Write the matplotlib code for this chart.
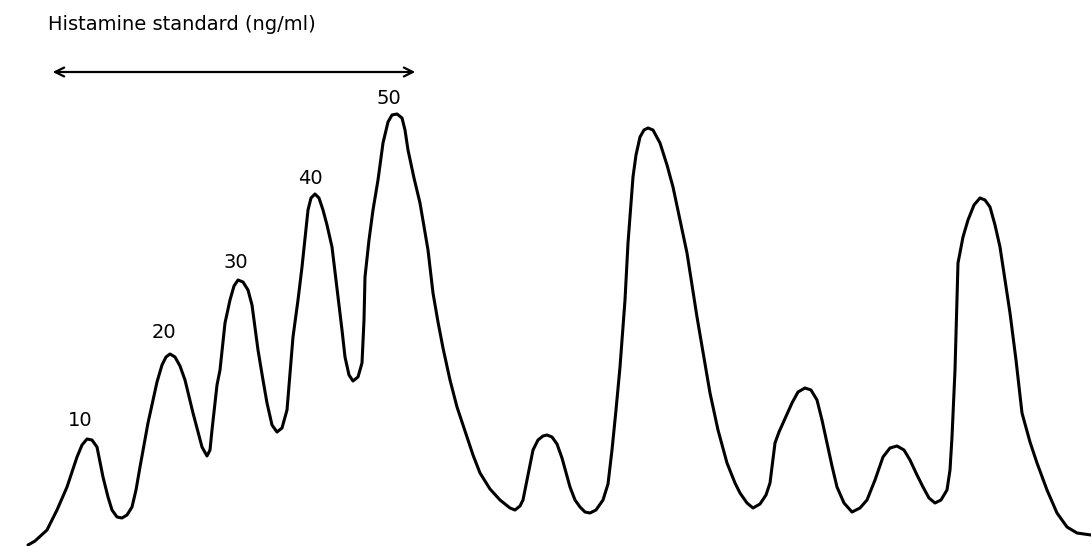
import matplotlib
matplotlib.use("Agg")
import matplotlib.pyplot as plt

# trace: x position, y in image rows (0 = top)
trace_x = [28, 35, 47, 57, 67, 77, 82, 87, 92, 97, 103, 108, 112, 117, 122, 127, 132, 136, 140,
           148, 153, 157, 162, 166, 170, 175, 180, 185, 193, 202, 207, 210, 212, 217, 220, 225,
           230, 234, 238, 243, 248, 252, 258, 263, 267, 272, 277, 282, 287, 293, 298, 302, 305,
           308, 311, 315, 319, 323, 327, 332, 338, 342, 345, 349, 353, 358, 362, 364, 365, 369,
           373, 378, 383, 388, 392, 397, 402, 405, 408, 414, 420, 428, 433, 438, 443, 450, 457,
           467, 473, 480, 490, 500, 510, 515, 520, 523, 528, 533, 538, 543, 547, 552, 557, 562,
           570, 575, 580, 585, 590, 596, 603, 608, 612, 616, 620, 625, 628, 633, 636, 640, 644,
           648, 653, 660, 667, 673, 680, 687, 697, 710, 718, 727, 735, 740, 747, 753, 760, 766,
           770, 775, 779, 783, 792, 798, 805, 811, 817, 822, 827, 832, 837, 844, 852, 860, 867,
           875, 883, 890, 897, 904, 910, 917, 923, 929, 935, 941, 947, 950, 952, 955, 958, 963,
           968, 974, 980, 985, 990, 995, 1000, 1005, 1010, 1016, 1022, 1030, 1037, 1047, 1057,
           1067, 1077, 1091]
trace_y = [545, 541, 530, 510, 487, 457, 445, 439, 440, 447, 477, 497, 510, 517, 518, 515, 507, 490, 467,
           423, 400, 382, 365, 357, 354, 357, 366, 380, 413, 447, 456, 450, 430, 385, 370, 323,
           300, 286, 280, 282, 290, 305, 350, 380, 403, 425, 432, 428, 410, 337, 300, 267, 238,
           210, 198, 194, 198, 210, 225, 247, 297, 330, 357, 375, 381, 377, 363, 320, 277, 240,
           210, 180, 143, 122, 115, 114, 118, 130, 150, 178, 203, 250, 293, 322, 348, 380, 407,
           437, 455, 473, 489, 500, 508, 510, 506, 500, 475, 450, 440, 436, 435, 437, 444, 458,
           487, 500, 507, 512, 513, 510, 500, 484, 450, 410, 367, 300, 243, 177, 155, 137, 130,
           128, 130, 143, 165, 187, 220, 253, 317, 393, 430, 463, 483, 493, 503, 508, 504, 495,
           483, 443, 432, 423, 403, 392, 388, 390, 400, 420, 443, 466, 487, 503, 512, 508, 500,
           480, 457, 448, 446, 450, 460, 475, 487, 498, 503, 500, 490, 470, 437, 370, 263, 237,
           220, 205, 198, 200, 207, 225, 247, 280, 313, 360, 413, 442, 463, 490, 513,
           527, 533, 535]

# standard peak labels
std_labels = ["10", "20", "30", "40", "50"]
std_label_x = [80, 164, 236, 310, 389]
std_label_y = [420, 333, 262, 178, 98]

title = "Histamine standard (ng/ml)"
arrow_x = [50, 418]
arrow_y = 72

fig = plt.figure(figsize=(10.91, 5.46), dpi=100)
ax = fig.add_axes([0, 0, 1, 1])
ax.set_xlim(0, 1091)
ax.set_ylim(546, 0)
ax.axis("off")

ax.plot(trace_x, trace_y, color="black", lw=2.2, solid_joinstyle="round", solid_capstyle="round")

for lab, lx, ly in zip(std_labels, std_label_x, std_label_y):
    ax.text(lx, ly, lab, fontsize=14, ha="center", va="center", color="black")

ax.annotate("", xy=(arrow_x[1], arrow_y), xytext=(arrow_x[0], arrow_y),
            arrowprops=dict(arrowstyle="<->", color="black", lw=1.6, mutation_scale=16))

ax.text(48, 25, title, fontsize=14, ha="left", va="center", color="black")

fig.savefig("out.png", dpi=100)
